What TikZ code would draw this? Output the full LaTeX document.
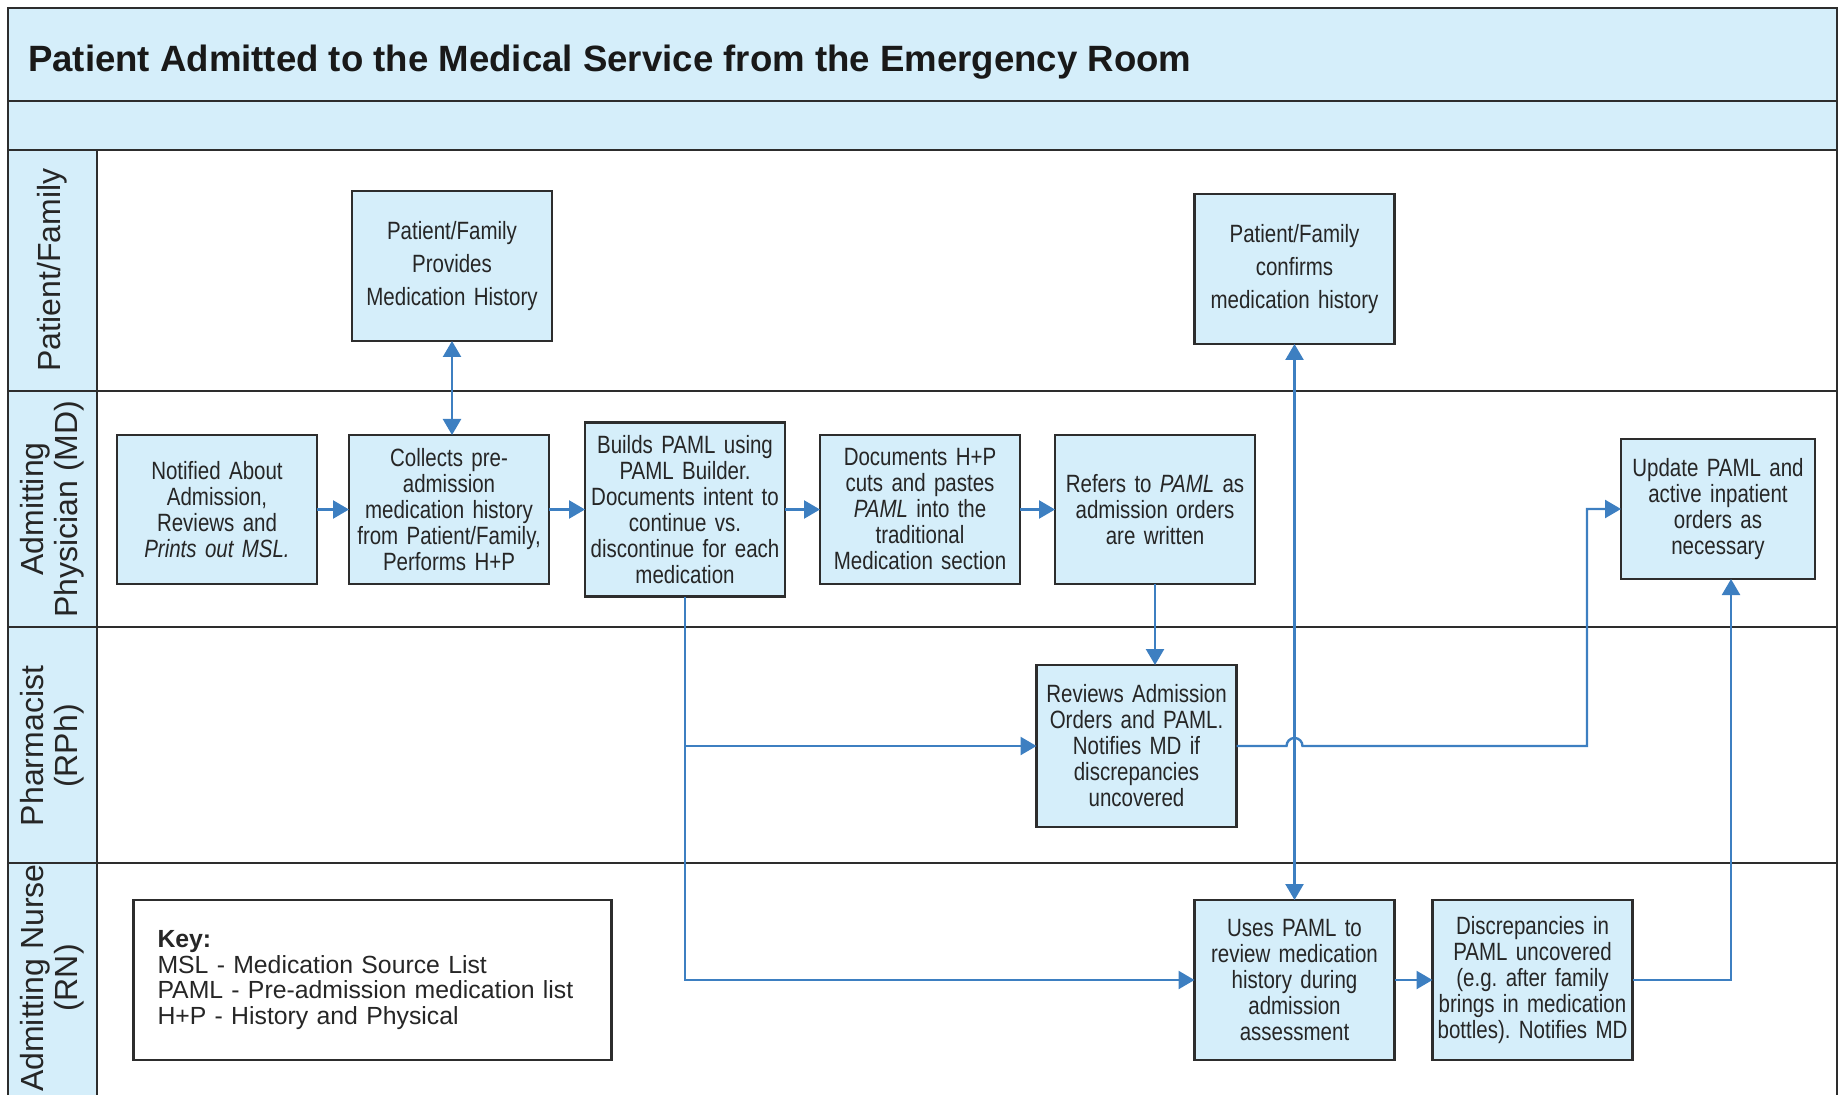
\documentclass[tikz,border=0pt]{standalone}
\usepackage{fontspec}
\setmainfont{Liberation Sans}
\newfontfamily\narrowsans{Liberation Sans}[FakeStretch=0.82]
\usetikzlibrary{arrows.meta}
\usetikzlibrary{positioning}

\definecolor{paleblue}{RGB}{213,238,250}
\definecolor{flowblue}{RGB}{61,127,193}
\definecolor{rulegray}{RGB}{45,45,45}

\tikzset{
  stepbox/.style={draw=rulegray, line width=1.2pt, fill=paleblue, text=black!85,
    align=center, inner xsep=0.5pt, inner ysep=0pt, outer sep=0pt, text width=99pt,
    minimum width=100pt, minimum height=74.5pt,
    font=\narrowsans\fontsize{12.5}{13}\selectfont},
  lanelabel/.style={rotate=90, align=center, text=black!85,
    font=\fontsize{16}{17}\selectfont},
  lane/.style={draw=rulegray, line width=1.3pt},
  flow/.style={draw=flowblue, line width=1.2pt, -{Triangle[length=8pt,width=9pt]}},
  flowboth/.style={flow, {Triangle[length=8pt,width=9pt]}-{Triangle[length=8pt,width=9pt]}}
}

\begin{document}
\begin{tikzpicture}[x=0.5pt,y=-0.5pt]
\useasboundingbox (0,0) rectangle (1839,1095);
\clip (0,0) rectangle (1839,1095);

% swimlane frame
\fill[paleblue] (8,8) rectangle (1837,150);
\fill[paleblue] (8,150) rectangle (97,1100);
\draw[lane] (8,1100) -- (8,8) -- (1837,8) -- (1837,1100);
\foreach \y in {101,150,391,627,863}
  \draw[lane] (8,\y) -- (1837,\y);
\draw[lane] (97,150) -- (97,1100);

\node[anchor=base west, text=black!90, font=\bfseries\fontsize{18.3}{20}\selectfont] (title) at (21,72)
  {Patient Admitted to the Medical Service from the Emergency Room};

\node[lanelabel] (lanepf) at (52,270) {Patient/Family};
\node[lanelabel] (lanemd) at (52,509) {Admitting\\Physician (MD)};
\node[lanelabel] (lanerph) at (52,746) {Pharmacist\\(RPh)};
\node[lanelabel] (lanern) at (52,978) {Admitting Nurse\\(RN)};

% patient / family
\node[stepbox, minimum height=75pt, font=\narrowsans\fontsize{12.5}{16.5}\selectfont] (pfprov) at (452,266)
  {Patient/Family\\Provides\\Medication History};
\node[stepbox, minimum height=75pt, font=\narrowsans\fontsize{12.5}{16.5}\selectfont] (pfconf) at (1294.5,269)
  {Patient/Family\\confirms\\medication history};

% physician
\node[stepbox] (notified) at (217,509.5)
  {Notified About\\Admission,\\Reviews and\\\textit{Prints out MSL.}};
\node[stepbox, right=16pt of notified] (collects)
  {Collects pre-\\admission\\medication history\\from Patient/Family,\\Performs H+P};
\node[stepbox, minimum height=87pt, right=18pt of collects] (builds)
  {Builds PAML using\\PAML Builder.\\Documents intent to\\continue vs.\\discontinue for each\\medication};
\node[stepbox, right=17.5pt of builds] (documents)
  {Documents H+P\\cuts and pastes\\\textit{PAML} into the\\traditional\\Medication section};
\node[stepbox, right=17.5pt of documents] (refers)
  {Refers to \textit{PAML} as\\admission orders\\are written};
\node[stepbox, text width=96pt, minimum width=97pt, minimum height=70pt] (update) at (1718,509)
  {Update PAML and\\active inpatient\\orders as\\necessary};

% pharmacist
\node[stepbox, minimum height=81pt] (reviews) at (1136.5,746)
  {Reviews Admission\\Orders and PAML.\\Notifies MD if\\discrepancies\\uncovered};

% nurse
\node[stepbox, minimum height=80pt] (uses) at (1294.5,980)
  {Uses PAML to\\review medication\\history during\\admission\\assessment};
\node[stepbox, minimum height=80pt, right=19pt of uses] (disc)
  {Discrepancies in\\PAML uncovered\\(e.g.\ after family\\brings in medication\\bottles).\ Notifies MD};

\node[draw=rulegray, line width=1.2pt, fill=white, text=black!85, align=left,
  text width=215pt, inner xsep=12pt, minimum height=80pt,
  font=\fontsize{12.4}{12.9}\selectfont] (key) at (372.5,980)
  {\textbf{Key:}\\MSL - Medication Source List\\PAML - Pre-admission medication list\\H+P - History and Physical};

% connectors
\draw[flowboth] (pfprov.south) -- (pfprov.south |- collects.north);
\draw[flow] (notified) -- (collects);
\draw[flow] (collects) -- (builds);
\draw[flow] (builds) -- (documents);
\draw[flow] (documents) -- (refers);
\draw[flow] (refers.south) -- (refers.south |- reviews.north);
\draw[flow] (builds.south) |- (uses.west);
\draw[flow] (builds.south |- reviews.west) -- (reviews.west);
\draw[flowboth] (pfconf.south) -- (uses.north);
\coordinate (hop) at (uses.north |- reviews.east);
\coordinate (turn) at (1587,509);
\draw[flow] (reviews.east) -- ([xshift=-4pt]hop) arc[start angle=180, end angle=0, radius=4pt]
  -- (reviews.east -| turn) |- (update.west);
\draw[flow] (uses) -- (disc);
\draw[flow] (disc.east) -| ([xshift=6.5pt]update.south);
\end{tikzpicture}
\end{document}
